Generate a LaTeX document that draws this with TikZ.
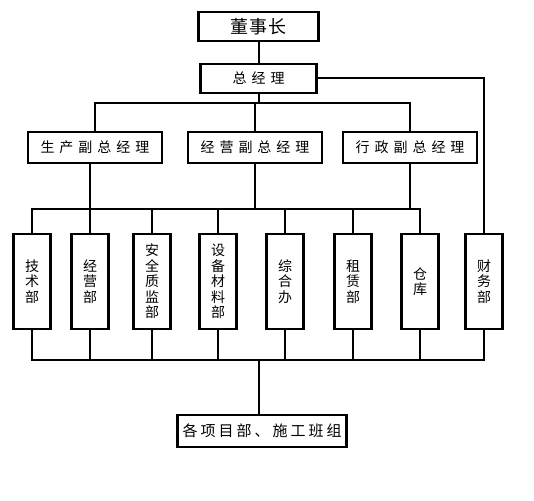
\documentclass[tikz,border=0pt]{standalone}
\usepackage{fontspec}
\newfontfamily\cjk{Noto Sans CJK SC}
\begin{document}
\begin{tikzpicture}[x=1pt,y=-1pt, line width=2pt,
  box/.style={draw, line width=2.2pt, inner sep=0pt, fill=white, font=\cjk\fontsize{14}{16}\selectfont},
  hbox/.style={box, minimum width=134, minimum height=31},
  vbox/.style={box, minimum width=37, minimum height=95, align=center, font=\cjk\fontsize{14}{15.5}\selectfont},
  conn/.style={line width=2pt}]
\useasboundingbox (0,0) rectangle (534,500);
\fill[white] (0,0) rectangle (534,500);
\node[box, minimum width=120, minimum height=29, font=\cjk\fontsize{18}{20}\selectfont] (chair) at (258.5,26.5) {董\hspace{1pt}事\hspace{1pt}长};
\node[box, minimum width=116, minimum height=29] (gm) at (258.5,78.5) {总\hspace{5pt}经\hspace{5pt}理};
\node[hbox] (vp1) at (95,147.5) {生\hspace{5pt}产\hspace{5pt}副\hspace{5pt}总\hspace{5pt}经\hspace{5pt}理};
\node[hbox] (vp2) at (255,147.5) {经\hspace{5pt}营\hspace{5pt}副\hspace{5pt}总\hspace{5pt}经\hspace{5pt}理};
\node[hbox] (vp3) at (410,147.5) {行\hspace{5pt}政\hspace{5pt}副\hspace{5pt}总\hspace{5pt}经\hspace{5pt}理};
\node[vbox] (d1) at (32,281.5) {技\\术\\部};
\node[vbox] (d2) at (90,281.5) {经\\营\\部};
\node[vbox] (d3) at (152,281.5) {安\\全\\质\\监\\部};
\node[vbox] (d4) at (218,281.5) {设\\备\\材\\料\\部};
\node[vbox] (d5) at (285,281.5) {综\\合\\办};
\node[vbox] (d6) at (353,281.5) {租\\赁\\部};
\node[vbox] (d7) at (420,281.5) {仓\\库};
\node[vbox] (fin) at (484,281.5) {财\\务\\部};
\node[box, minimum width=169, minimum height=32, font=\cjk\fontsize{15}{17}\selectfont] (proj) at (262,431) {各\hspace{3pt}项\hspace{3pt}目\hspace{3pt}部\hspace{3pt}、\hspace{3pt}施\hspace{3pt}工\hspace{3pt}班\hspace{3pt}组};
\coordinate (bus1) at (0,103);
\coordinate (bus2) at (0,209);
\coordinate (bus3) at (0,360);
% top
\draw[conn] (chair.south) -- (gm.north);
\draw[conn] (gm.east) -| (fin.north);
\draw[conn] (gm.south) -- (gm.south |- bus1);
\draw[conn] (vp1.north) |- (vp3.north |- bus1) -- (vp3.north);
\draw[conn] (vp2.north) -- (vp2.north |- bus1);
% middle bus
\draw[conn] (d1.north) |- (d7.north |- bus2) -- (d7.north);
\draw[conn] (d2.north |- vp1.south) -- (d2.north);
\draw[conn] (vp2.south) -- (vp2.south |- bus2);
\draw[conn] (vp3.south) -- (vp3.south |- bus2);
\foreach \d in {d3,d4,d5,d6} \draw[conn] (\d.north |- bus2) -- (\d.north);
% bottom bus
\draw[conn] (d1.south) |- (fin.south |- bus3) -- (fin.south);
\foreach \d in {d2,d3,d4,d5,d6,d7} \draw[conn] (\d.south) -- (\d.south |- bus3);
\draw[conn] (gm.south |- bus3) -- (gm.south |- proj.north);
\end{tikzpicture}
\end{document}
